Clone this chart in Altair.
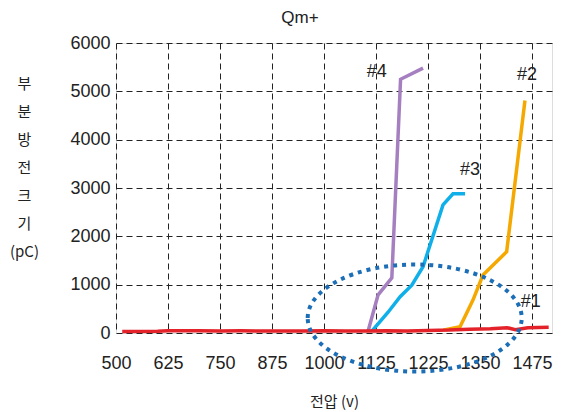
import altair as alt
import pandas as pd

# ---- data (x values are in axis-position units: ticks every 125 from 500) ----
s4_x = [1106, 1130, 1163, 1184, 1238]
s4_y = [40, 790, 1140, 5250, 5480]

s3_x = [1115, 1154, 1183, 1211, 1238, 1286, 1310, 1339]
s3_y = [40, 430, 750, 990, 1370, 2650, 2880, 2880]

s2_x = [1286, 1327, 1358, 1382, 1439, 1483]
s2_y = [60, 130, 680, 1200, 1680, 4810]

s1_x = [515, 600, 625, 700, 750, 800, 875, 950, 1000, 1050, 1100, 1150, 1200, 1250,
        1300, 1350, 1400, 1440, 1460, 1490, 1540]
s1_y = [30, 35, 45, 45, 40, 45, 40, 40, 45, 40, 40, 45, 40, 50,
        60, 80, 90, 110, 70, 110, 120]

series_names = ["#4", "#3", "#2", "#1"]
series_colors = ["#a57fc0", "#0fb0ea", "#f5a800", "#e3222a"]

label_text = ["#4", "#2", "#3", "#1"]
label_x = [1127, 1488, 1351, 1497]
label_y = [5400, 5340, 3370, 640]

tick_values = [500, 625, 750, 875, 1000, 1125, 1250, 1375, 1500]
tick_labels = ["500", "625", "750", "875", "1000", "1125", "1225", "1350", "1475"]

y_ticks = [0, 1000, 2000, 3000, 4000, 5000, 6000]

ellipse_x = [1218]
ellipse_y = [310]

# ---- build tables ----
rows = []
for name, xs, ys in zip(series_names, [s4_x, s3_x, s2_x, s1_x], [s4_y, s3_y, s2_y, s1_y]):
    for i, (x, y) in enumerate(zip(xs, ys)):
        rows.append({"series": name, "x": x, "y": y, "i": i})
df = pd.DataFrame(rows)
labels_df = pd.DataFrame({"t": label_text, "x": label_x, "y": label_y})
ell_df = pd.DataFrame({"x": ellipse_x, "y": ellipse_y})

label_expr = "[" + ",".join("'%s'" % t for t in tick_labels) + "][indexof([" + \
    ",".join(str(v) for v in tick_values) + "], datum.value)]"

FONT = "Liberation Sans"
KFONT = "Noto Sans CJK KR"

xscale = alt.Scale(domain=[500, 1548], nice=False, zero=False)
yscale = alt.Scale(domain=[0, 6000], nice=False)

x_enc = alt.X("x:Q", scale=xscale, axis=alt.Axis(
    values=tick_values, labelExpr=label_expr, title="전압 (v)",
    titleFont=KFONT, titleFontSize=15, titleFontWeight="normal", titleColor="#222",
    titlePadding=22, labelFont=FONT, labelFontSize=18, labelColor="#222",
    labelPadding=21, ticks=False, domain=False, grid=True, gridColor="#222",
    gridDash=[6, 4], gridWidth=1, labelFlush=False, labelOverlap=False))

y_enc = alt.Y("y:Q", scale=yscale, axis=alt.Axis(
    values=y_ticks, format="d", title=["부", "분", "방", "전", "크", "기", "(pC)"],
    titleAngle=0, titleX=-92, titleY=33, titleAlign="center", titleBaseline="top",
    titleLineHeight=28, titleFont=KFONT, titleFontSize=15, titleFontWeight="normal",
    titleColor="#222", labelFont=FONT, labelFontSize=18, labelColor="#222",
    labelPadding=6, ticks=False, domain=False, grid=True, gridColor="#222",
    gridDash=[6, 4], gridWidth=1))

lines = alt.Chart(df).mark_line(strokeWidth=3.5, strokeCap="butt").encode(
    x=x_enc, y=y_enc,
    color=alt.Color("series:N", scale=alt.Scale(domain=series_names, range=series_colors),
                    legend=None),
    order="i:Q",
)

texts = alt.Chart(labels_df).mark_text(font=FONT, fontSize=18, color="#222").encode(
    x=alt.X("x:Q", scale=xscale), y=alt.Y("y:Q", scale=yscale), text="t:N")

ellipse = alt.Chart(ell_df).mark_point(
    shape="M -1 0 A 1 0.5 0 1 1 1 0 A 1 0.5 0 1 1 -1 0 Z",
    size=45796, filled=False, stroke="#1c6fb6", strokeWidth=4, strokeDash=[4, 5],
    opacity=1).encode(x=alt.X("x:Q", scale=xscale), y=alt.Y("y:Q", scale=yscale))

chart = alt.layer(lines, texts, ellipse).properties(
    width=436, height=290,
    title=alt.TitleParams("Qm+", font=FONT, fontSize=17, fontWeight="normal",
                          color="#222", dx=-34, offset=7),
    autosize=alt.AutoSizeParams(type="none"),
    padding={"left": 108, "top": 35, "right": 3, "bottom": 78},
).configure_view(stroke="#3b7cc0", strokeWidth=2).configure(background="white")

chart.save("out.html", embed_options={"renderer": "svg", "actions": False})
